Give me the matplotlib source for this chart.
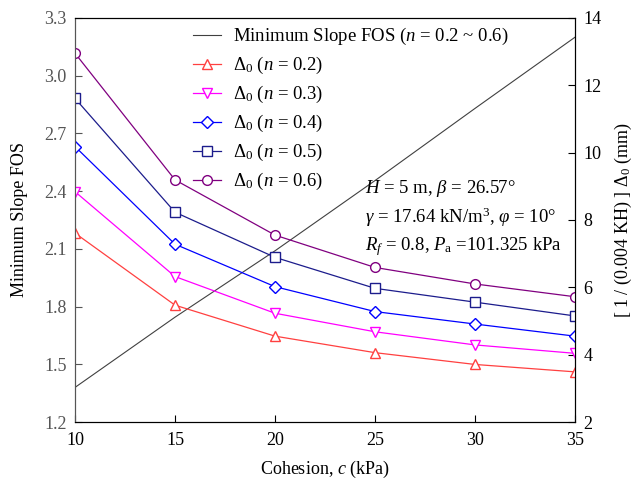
import matplotlib
matplotlib.use("Agg")
import matplotlib.pyplot as plt

plt.rcParams['font.family'] = ['Liberation Serif', 'DejaVu Serif']
plt.rcParams['mathtext.fontset'] = 'custom'
plt.rcParams['mathtext.rm'] = 'Liberation Serif'
plt.rcParams['mathtext.it'] = 'Liberation Serif:italic'
plt.rcParams['mathtext.bf'] = 'Liberation Serif:bold'

# datos
cohesion = [10, 15, 20, 25, 30, 35]
fos_min = [1.38, 1.745, 2.09, 2.455, 2.83, 3.20]
delta_n02 = [7.61, 5.47, 4.55, 4.06, 3.71, 3.49]
delta_n03 = [8.84, 6.32, 5.23, 4.68, 4.29, 4.04]
delta_n04 = [10.18, 7.28, 6.02, 5.28, 4.91, 4.55]
delta_n05 = [11.61, 8.23, 6.89, 5.97, 5.56, 5.15]
delta_n06 = [12.95, 9.19, 7.55, 6.59, 6.10, 5.72]

series = [
    (delta_n02, '#FF4040', '^', '0.2'),
    (delta_n03, '#FF00FF', 'v', '0.3'),
    (delta_n04, '#0000FF', 'D', '0.4'),
    (delta_n05, '#1C1C8C', 's', '0.5'),
    (delta_n06, '#800080', 'o', '0.6'),
]

fig = plt.figure(figsize=(6.44, 4.84), dpi=100)
ax = fig.add_axes([0.1165, 0.128, 0.7765, 0.835])
ax2 = ax.twinx()

l0, = ax.plot(cohesion, fos_min, color='#404040', lw=0.8,
              label=r'Minimum Slope FOS ($n$ = 0.2 ~ 0.6)')
ax.set_xlim(10, 35)
ax.set_ylim(1.2, 3.3)
ax.set_yticks([1.2, 1.5, 1.8, 2.1, 2.4, 2.7, 3.0, 3.3])
ax.set_xticks(cohesion)
ax.set_xlabel(r'Cohesion, $c$ (kPa)', fontsize=13, labelpad=7)
ax.set_ylabel('Minimum Slope FOS', fontsize=13, labelpad=12)
ax.tick_params(axis='x', direction='in', top=False, labelsize=13, length=5, pad=7)
ax.tick_params(axis='y', direction='in', labelsize=13, length=5, pad=6,
               colors='#555555', labelcolor='#555555')
ax.spines['left'].set_color('#555555')

handles = [l0]
for vals, col, mk, n in series:
    ms = 7 if mk != 'D' else 6
    h, = ax2.plot(cohesion, vals, color=col, lw=0.9, marker=mk, ms=ms,
                  mfc='white', mec=col, mew=1.0,
                  label=r'$\Delta_0$ ($n$ = ' + n + ')')
    handles.append(h)

ax2.set_ylim(2, 14)
ax2.set_yticks([2, 4, 6, 8, 10, 12, 14])
ax2.tick_params(axis='y', direction='in', labelsize=13, length=5, pad=6)
ax2.set_ylabel(r'[ 1 / (0.004 KH) ] $\Delta_0$ (mm)', fontsize=13, labelpad=8)
ax2.spines['left'].set_color('#555555')

ax2.legend(handles=handles, loc='upper left', bbox_to_anchor=(0.21, 1.012),
           frameon=False, fontsize=13.5, handlelength=1.5, handletextpad=0.6,
           labelspacing=0.42, borderaxespad=0.3)

ax2.text(0.58, 0.505,
         '$H$ = 5 m, $\\beta$ = 26.57\u00b0\n'
         '$\\gamma$ = 17.64 kN/m$^3$, $\\varphi$ = 10\u00b0\n'
         '$R_f$ = 0.8, $P_{\\rm a}$ =101.325 kPa',
         transform=ax2.transAxes, fontsize=13.5, va='center', ha='left',
         linespacing=1.4)

fig.savefig('out.png', dpi=100)
